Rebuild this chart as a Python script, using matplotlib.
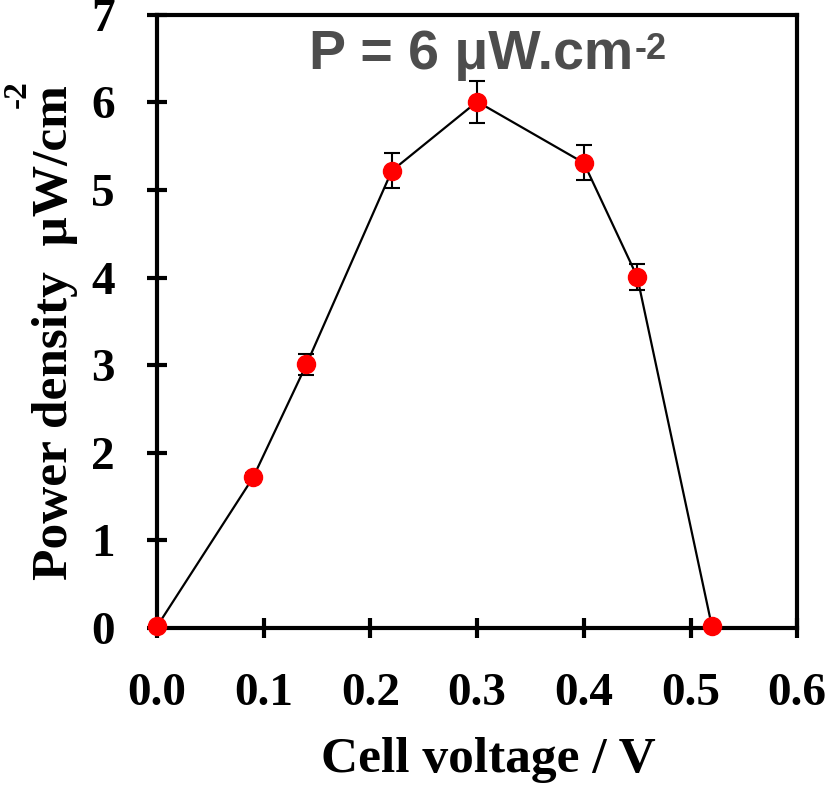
import numpy as np
from matplotlib import pyplot as plt

# cell voltage (V) vs power density (uW/cm2)
voltage = [0.0, 0.09, 0.14, 0.22, 0.30, 0.40, 0.45, 0.52]
power = [0.02, 1.72, 3.01, 5.22, 6.01, 5.31, 4.01, 0.02]
power_err = [0.0, 0.05, 0.12, 0.20, 0.24, 0.20, 0.15, 0.0]

xticks = [0.0, 0.1, 0.2, 0.3, 0.4, 0.5, 0.6]
xticklabels = ['0.0', '0.1', '0.2', '0.3', '0.4', '0.5', '0.6']
yticks = [0, 1, 2, 3, 4, 5, 6, 7]

serif = 'Liberation Serif'
fs = 37

fig = plt.figure(figsize=(8.27, 7.85), dpi=100)
ax = fig.add_axes([0.19, 0.2, 0.774, 0.781])

ax.plot(voltage, power, color='black', lw=1.6, zorder=2)
ax.errorbar(voltage, power, yerr=power_err, fmt='none', ecolor='black',
            elinewidth=1.5, capsize=5.5, capthick=1.5, zorder=3)
ax.plot(voltage, power, 'o', color='#ff0000', ms=13, mec='#ff0000', zorder=4, clip_on=False)

ax.set_xlim(0, 0.6)
ax.set_ylim(0, 7)
ax.set_xticks(xticks)
ax.set_xticklabels(xticklabels)
ax.set_yticks(yticks)

for s in ax.spines.values():
    s.set_linewidth(3)
ax.tick_params(direction='inout', length=15, width=3, labelsize=34)
ax.tick_params(axis='x', pad=25)
ax.tick_params(axis='y', pad=23)
for lab in ax.get_xticklabels() + ax.get_yticklabels():
    lab.set_fontfamily(serif)
    lab.set_fontweight('bold')

fig.text(0.59, 0.032, 'Cell voltage / V', ha='center', va='center',
         fontsize=fs, fontweight='bold', family=serif)

# y label with superscript
yl = fig.text(0.066, 0.576, 'Power density  μW/cm', rotation=90, ha='center', va='center',
              fontsize=fs, fontweight='bold', family=serif)
ax.annotate('-2', xy=(0, 1), xycoords=yl, xytext=(1, 4), textcoords='offset points',
            rotation=90, ha='right', va='top', fontsize=24, fontweight='bold', family=serif)

# annotation in plot
t = ax.text(0.49, 0.935, 'P = 6 μW.cm', transform=ax.transAxes, ha='center', va='center',
            fontsize=40, fontweight='bold', family='Liberation Sans', color='#4d4d4d')
ax.annotate('-2', xy=(1, 1), xycoords=t, xytext=(1, -2), textcoords='offset points',
            ha='left', va='top', fontsize=26, fontweight='bold', family='Liberation Sans',
            color='#4d4d4d')

fig.savefig('out.png', dpi=100)
